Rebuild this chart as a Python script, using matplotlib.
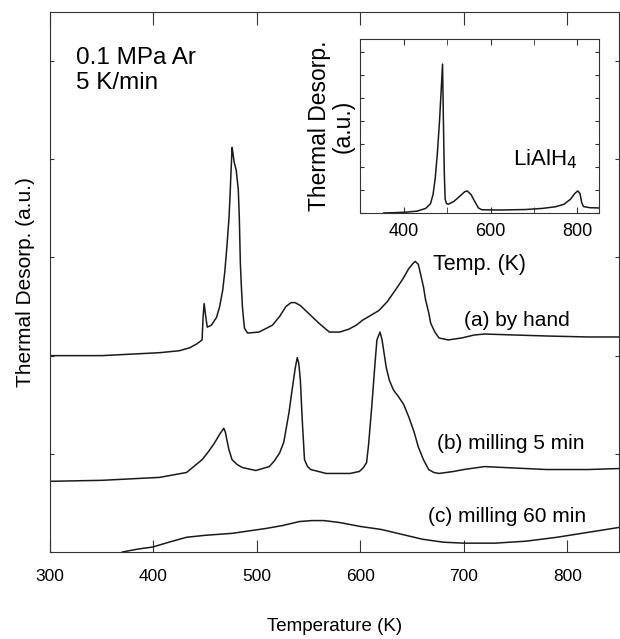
import numpy as np
import matplotlib
matplotlib.use("Agg")
import matplotlib.pyplot as plt

plt.rcParams['font.family'] = ['Liberation Sans', 'DejaVu Sans']

# (a) by hand
temp_a = [300, 350, 406, 425, 435, 442, 447, 448, 449, 450.5, 452, 456, 461, 464, 467, 469,
          471, 473, 474, 475, 476, 477, 478, 480, 482, 483, 484, 485, 486, 487, 488, 491,
          502, 515, 522, 528, 533, 537, 542, 547, 553, 560, 570, 580, 589, 596, 602, 610,
          618, 626, 634, 641, 647, 651, 653, 656, 658, 661, 663, 666, 668, 672, 676, 685,
          698, 710, 720, 750, 780, 820, 850]
tds_a = [2.00, 2.00, 2.03, 2.05, 2.08, 2.12, 2.16, 2.40, 2.53, 2.40, 2.29, 2.31, 2.39, 2.50, 2.67, 2.86,
         3.11, 3.40, 3.62, 3.88, 4.12, 4.05, 3.97, 3.89, 3.69, 3.40, 2.94, 2.70, 2.50, 2.38, 2.28, 2.23,
         2.24, 2.31, 2.40, 2.50, 2.54, 2.54, 2.51, 2.46, 2.40, 2.33, 2.24, 2.24, 2.27, 2.31, 2.36, 2.41,
         2.46, 2.55, 2.67, 2.78, 2.89, 2.94, 2.96, 2.93, 2.84, 2.70, 2.57, 2.44, 2.33, 2.24, 2.18, 2.16,
         2.18, 2.21, 2.22, 2.21, 2.20, 2.19, 2.19]

# (b) milling 5 min
temp_b = [300, 350, 406, 432, 447, 453, 459, 464, 468, 469.5, 471, 473, 476, 481, 486, 499,
          512, 517, 522, 526, 528, 531, 534, 537, 539, 540.5, 542, 544, 546, 549, 552, 567,
          590, 599, 603, 606, 608, 611, 614, 616, 619, 621, 623, 625, 628, 632, 637, 642,
          647, 652, 656, 661, 666, 671, 676, 690, 700, 720, 740, 780, 820, 850]
tds_b = [0.72, 0.73, 0.76, 0.81, 0.94, 1.02, 1.11, 1.20, 1.26, 1.22, 1.14, 1.04, 0.94, 0.89, 0.86, 0.83,
         0.87, 0.93, 1.01, 1.12, 1.24, 1.42, 1.65, 1.87, 1.98, 1.92, 1.75, 1.31, 0.94, 0.87, 0.84, 0.80,
         0.80, 0.82, 0.86, 0.91, 1.10, 1.48, 1.90, 2.16, 2.24, 2.16, 2.02, 1.88, 1.75, 1.65, 1.58, 1.50,
         1.37, 1.22, 1.07, 0.94, 0.84, 0.81, 0.80, 0.82, 0.84, 0.87, 0.86, 0.84, 0.84, 0.85]

# (c) milling 60 min
temp_c = [370, 385, 399, 415, 432, 450, 476, 509, 525, 541, 553, 565, 580, 600, 620, 640,
          660, 680, 700, 730, 760, 790, 820, 850]
tds_c = [0.00, 0.03, 0.05, 0.10, 0.15, 0.17, 0.19, 0.24, 0.27, 0.31, 0.32, 0.32, 0.30, 0.26, 0.23, 0.18,
         0.13, 0.10, 0.09, 0.09, 0.11, 0.15, 0.20, 0.25]

# inset: LiAlH4
temp_ref = [353, 400, 430, 450, 461, 467, 472, 477, 482, 486, 489, 491, 493, 495, 498, 502,
            515, 530, 540, 546, 555, 565, 572, 580, 620, 680, 720, 750, 770, 785, 795, 802,
            807, 811, 815, 830, 850]
tds_ref = [0.00, 0.03, 0.08, 0.20, 0.40, 0.80, 1.50, 2.60, 4.00, 5.40, 6.48, 4.00, 1.80, 0.60, 0.42, 0.38,
           0.50, 0.75, 0.92, 0.96, 0.80, 0.45, 0.22, 0.14, 0.13, 0.15, 0.20, 0.27, 0.38, 0.60, 0.85, 0.96,
           0.85, 0.45, 0.28, 0.23, 0.22]

xticks_main = [300, 400, 500, 600, 700, 800]
xticks_inset = [400, 600, 800]

ink = '#1a1a1a'
fig = plt.figure(figsize=(6.2, 6.39), dpi=100)
ax = fig.add_axes([50/620, 87/639, 569/620, 540/639])
ax.plot(temp_a, tds_a, color=ink, lw=1.1)
ax.plot(temp_b, tds_b, color=ink, lw=1.1)
ax.plot(temp_c, tds_c, color=ink, lw=1.1)
ax.set_xlim(300, 850)
ax.set_ylim(0, 5.5)
ax.set_xticks(xticks_main)
ax.set_yticks(range(6))
ax.tick_params(axis='x', direction='in', length=9, top=True, pad=12, labelsize=12.5, color='#333')
ax.tick_params(axis='y', direction='in', length=3, right=True, labelleft=False, color='#333')
for s in ax.spines.values():
    s.set_color('#333')
ax.set_xlabel('Temperature (K)', fontsize=13.5, labelpad=25)
ax.set_ylabel('Thermal Desorp. (a.u.)', fontsize=15, labelpad=11)

ax.text(0.046, 0.935, '0.1 MPa Ar\n5 K/min', transform=ax.transAxes, fontsize=17.5,
        va='top', ha='left', linespacing=1.15)
ax.text(700, 2.36, '(a) by hand', fontsize=15, va='center')
ax.text(674, 1.11, '(b) milling 5 min', fontsize=15, va='center')
ax.text(665, 0.36, '(c) milling 60 min', fontsize=15, va='center')

axins = fig.add_axes([360/620, 426/639, 239/620, 174/639])
axins.plot(temp_ref, tds_ref, color=ink, lw=1.1)
axins.set_xlim(298, 851)
axins.set_ylim(0, 7.57)
axins.set_xticks(xticks_inset)
axins.set_xticks([500, 700], minor=True)
axins.set_yticks(range(8))
axins.tick_params(axis='x', which='both', direction='in', length=4, top=True, pad=7,
                  labelsize=13, color='#333')
axins.tick_params(axis='y', direction='in', length=3, right=True, labelleft=False, color='#333')
for s in axins.spines.values():
    s.set_color('#333')
axins.set_xlabel('Temp. (K)', fontsize=15.5, labelpad=10)
axins.set_ylabel('Thermal Desorp.\n(a.u.)', fontsize=16.5, labelpad=4, linespacing=1.0)
axins.text(651, 2.09, 'LiAlH$_4$', fontsize=16, va='baseline')

fig.savefig('out.png', dpi=100)
